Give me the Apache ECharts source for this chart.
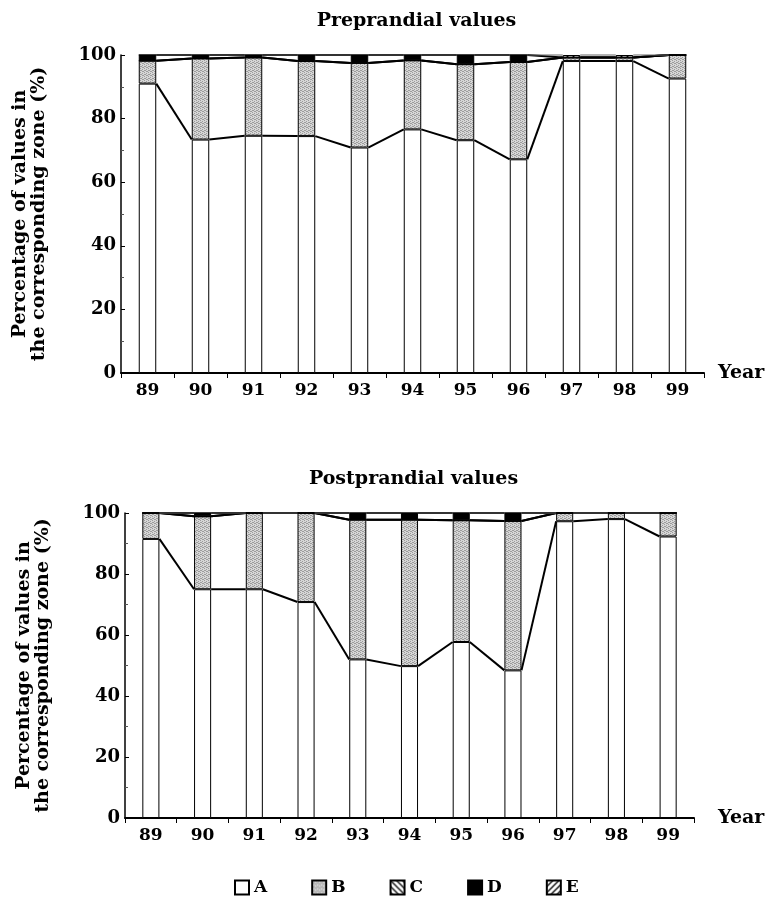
<!DOCTYPE html>
<html lang="en">
<head>
  <meta charset="utf-8">
</head>
<body style="margin: 0; width: 771px; height: 905px">
  <div id="container" style="width: 771px; height: 905px"></div>
  <script type="text/javascript" src="https://cdn.jsdelivr.net/npm/echarts@6/dist/echarts.min.js"></script>
  <script type="text/javascript">

// ---- data (% of values per zone) ----
var years = ['89', '90', '91', '92', '93', '94', '95', '96', '97', '98', '99'];
var zones = ['A', 'B', 'C', 'D', 'E'];

var preA = [91.0, 73.4, 74.6, 74.5, 70.9, 76.6, 73.2, 67.2, 98.1, 98.1, 92.6];
var preB = [7.2, 25.5, 24.6, 23.6, 26.6, 21.7, 23.9, 30.6, 1.1, 1.1, 7.4];
var preC = [0, 0, 0, 0, 0, 0, 0, 0, 0, 0, 0];
var preD = [1.8, 1.1, 0.8, 1.9, 2.5, 1.7, 2.9, 2.2, 0, 0, 0];
var preE = [0, 0, 0, 0, 0, 0, 0, 0, 0.8, 0.8, 0];

var postA = [91.5, 75.0, 75.0, 70.8, 52.0, 49.8, 57.7, 48.4, 97.3, 98.0, 92.3];
var postB = [8.5, 23.9, 25.0, 29.2, 45.8, 48.0, 39.9, 49.0, 2.7, 2.0, 7.7];
var postC = [0, 0, 0, 0, 0, 0, 0, 0, 0, 0, 0];
var postD = [0, 1.1, 0, 0, 2.2, 2.2, 2.4, 2.6, 0, 0, 0];
var postE = [0, 0, 0, 0, 0, 0, 0, 0, 0, 0, 0];

var titles = ['Preprandial values', 'Postprandial values'];
var yName = 'Percentage of values in\nthe corresponding zone (%)';

var dom = document.getElementById('container');
var myChart = echarts.init(dom, null, { renderer: 'canvas' });

var FONT = '"DejaVu Serif", serif';

// fill patterns like the printed figure
function pattern(kind) {
  var c = document.createElement('canvas');
  var n = kind === 'stipple' ? 4 : 6;
  c.width = n; c.height = n;
  var g = c.getContext('2d');
  g.fillStyle = kind === 'stipple' ? '#d6d6d6' : '#ffffff';
  g.fillRect(0, 0, n, n);
  if (kind === 'stipple') {
    g.fillStyle = '#9c9c9c';
    [[0, 0], [2, 1], [1, 2], [3, 3], [2, 3], [0, 2]].forEach(function (p) { g.fillRect(p[0], p[1], 1, 1); });
  } else {
    g.strokeStyle = '#000';
    g.lineWidth = 1.3;
    g.beginPath();
    if (kind === 'back') {
      g.moveTo(0, 0); g.lineTo(n, n);
      g.moveTo(-n, 0); g.lineTo(n, 2 * n);
      g.moveTo(0, -n); g.lineTo(2 * n, n);
    } else {
      g.moveTo(0, n); g.lineTo(n, 0);
      g.moveTo(-n, n); g.lineTo(n, -n);
      g.moveTo(0, 2 * n); g.lineTo(2 * n, 0);
    }
    g.stroke();
  }
  return { image: c, repeat: 'repeat' };
}

var zoneColor = {
  A: '#ffffff',
  B: pattern('stipple'),
  C: pattern('back'),
  D: '#000000',
  E: pattern('fwd')
};

var sets = [
  [preA, preB, preC, preD, preE],
  [postA, postB, postC, postD, postE]
];

// plot boxes taken from the figure
var grids = [
  { left: 121, top: 55, width: 583, height: 318 },
  { left: 125, top: 513, width: 569, height: 305 }
];
var yearGap = [14, 24];

var BAR = 0.33;

// Excel-style series lines joining the stacked boundaries of neighbouring bars
function seriesLines(params, api) {
  var i = api.value(0);
  var hw = api.size([1, 0])[0] * BAR / 2;
  var kids = [];
  for (var k = 0; k < 5; k++) {
    var p1 = api.coord([i, api.value(1 + k)]);
    var p2 = api.coord([i + 1, api.value(6 + k)]);
    kids.push({
      type: 'line',
      shape: { x1: p1[0] + hw, y1: p1[1], x2: p2[0] - hw, y2: p2[1] },
      style: { stroke: k === 4 ? '#666' : '#000', lineWidth: k === 4 ? 1 : 2 }
    });
  }
  return { type: 'group', children: kids };
}

var series = [];
var xAxes = [];
var yAxes = [];
var graphics = [];

sets.forEach(function (set, g) {
  set.forEach(function (vals, z) {
    series.push({
      name: zones[z],
      type: 'bar',
      stack: 'total' + g,
      xAxisIndex: g,
      yAxisIndex: g,
      barWidth: '33%',
      data: vals,
      itemStyle: { color: zoneColor[zones[z]], borderColor: '#000', borderWidth: 1 },
      emphasis: { disabled: true }
    });
  });

  // cumulative boundaries per year
  var cum = years.map(function (y, i) {
    var s = 0;
    return set.map(function (vals) { s += vals[i]; return s; });
  });
  var lineData = [];
  for (var i = 0; i < years.length - 1; i++) {
    lineData.push([i].concat(cum[i], cum[i + 1]));
  }
  series.push({
    type: 'custom',
    xAxisIndex: g,
    yAxisIndex: g,
    renderItem: seriesLines,
    data: lineData,
    encode: { x: 0, y: 1 },
    z: 5,
    silent: true
  });

  xAxes.push({
    type: 'category',
    gridIndex: g,
    data: years,
    name: 'Year',
    nameLocation: 'end',
    nameGap: yearGap[g],
    nameTextStyle: { fontFamily: FONT, fontWeight: 'bold', fontSize: 19, color: '#000', verticalAlign: 'middle' },
    axisLine: { lineStyle: { color: '#000', width: 2 } },
    axisTick: { show: true, length: 5, lineStyle: { color: '#000' } },
    axisLabel: { fontFamily: FONT, fontWeight: 'bold', fontSize: 17, color: '#000', margin: 9 },
    splitLine: { show: false }
  });

  yAxes.push({
    type: 'value',
    gridIndex: g,
    min: 0,
    max: 100,
    interval: 20,
    name: yName,
    nameLocation: 'middle',
    nameGap: 72,
    nameTextStyle: { fontFamily: FONT, fontWeight: 'bold', fontSize: 19, color: '#000', lineHeight: 19 },
    axisLine: { show: true, lineStyle: { color: '#000', width: 1.5 } },
    axisTick: { show: true, inside: true, length: 4, lineStyle: { color: '#000' } },
    minorTick: { show: true, splitNumber: 2, length: 3, lineStyle: { color: '#555' } },
    axisLabel: { fontFamily: FONT, fontWeight: 'bold', fontSize: 18, color: '#000', margin: 5 },
    splitLine: { show: false }
  });

  graphics.push({
    type: 'text',
    x: grids[g].left + grids[g].width / 2 + 4,
    y: grids[g].top - 34,
    style: {
      text: titles[g],
      font: 'bold 19px ' + FONT,
      fill: '#000',
      textAlign: 'center',
      textVerticalAlign: 'middle'
    }
  });
});

var option = {
  backgroundColor: '#fff',
  animation: false,
  grid: grids,
  xAxis: xAxes,
  yAxis: yAxes,
  graphic: graphics,
  legend: {
    data: zones,
    left: 229,
    top: 874,
    icon: 'rect',
    itemWidth: 14,
    itemHeight: 14,
    itemGap: 44,
    selectedMode: false,
    textStyle: { fontFamily: FONT, fontWeight: 'bold', fontSize: 17, color: '#000' }
  },
  series: series
};

myChart.setOption(option);
window.addEventListener('resize', myChart.resize);

  </script>
</body>
</html>
